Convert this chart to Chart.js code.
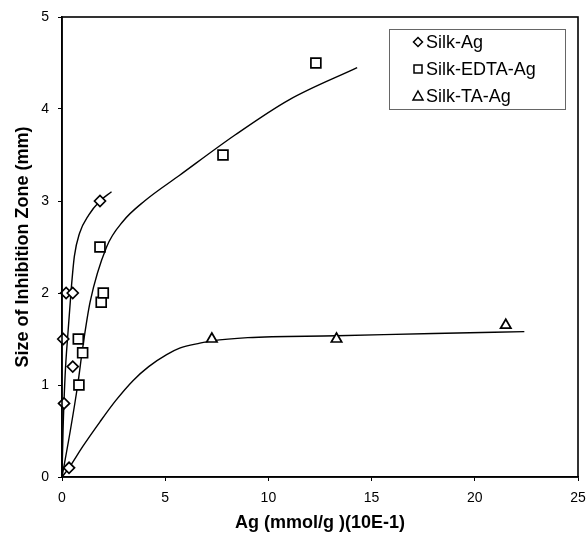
<!DOCTYPE html>
<html lang="en">
<head>
    <meta charset="UTF-8">
    <title>Size of Inhibition Zone</title>
    <script src="https://cdn.jsdelivr.net/npm/chart.js"></script>
    <style>
        html, body { margin: 0; padding: 0; background: #fff; }
        #wrap { width: 587px; height: 538px; }
    </style>
</head>
<body>
    <div id="wrap"><canvas id="zoneChart"></canvas></div>

    <script>
        // measured points
        const silkAgX = [0.1, 0.06, 0.2, 0.52, 0.52, 0.34, 1.84];
        const silkAgY = [0.8, 1.5, 2.0, 2.0, 1.2, 0.1, 3.0];
        const edtaX = [0.82, 1.0, 0.79, 1.9, 2.0, 1.84, 7.8, 12.3];
        const edtaY = [1.0, 1.35, 1.5, 1.9, 2.0, 2.5, 3.5, 4.5];
        const taX = [7.26, 13.3, 21.5];
        const taY = [1.5, 1.5, 1.65];

        // fitted trend lines
        const agLineX = [0, 0.05, 0.15, 0.3, 0.45, 0.6, 0.85, 1.3, 1.84, 2.4];
        const agLineY = [0, 0.5, 1.1, 1.6, 2.05, 2.4, 2.65, 2.85, 3.0, 3.1];
        const edtaLineX = [0, 0.4, 0.76, 1.0, 1.36, 2.16, 2.96, 4.0, 5.7, 8.4, 11, 14.3];
        const edtaLineY = [0, 0.5, 1.0, 1.4, 1.9, 2.5, 2.78, 3.0, 3.28, 3.72, 4.1, 4.45];
        const taLineX = [0, 0.34, 1, 1.84, 2.6, 3.45, 4.2, 5.07, 5.7, 6.68, 7.26, 9, 13.3, 18, 22.4];
        const taLineY = [0, 0.1, 0.33, 0.6, 0.83, 1.05, 1.2, 1.33, 1.4, 1.455, 1.48, 1.515, 1.535, 1.56, 1.58];

        const seriesNames = ['Silk-Ag', 'Silk-EDTA-Ag', 'Silk-TA-Ag'];
        const xTicks = [0, 5, 10, 15, 20, 25];
        const yTicks = [0, 1, 2, 3, 4, 5];

        const pts = (xs, ys) => xs.map((x, i) => ({ x: x, y: ys[i] }));

        Chart.defaults.font.family = '"Liberation Sans", Arial, sans-serif';
        Chart.defaults.color = '#000';

        function markerDataset(label, xs, ys, style, r) {
            return {
                label: label,
                data: pts(xs, ys),
                showLine: false,
                pointStyle: style,
                pointRadius: r,
                pointBorderColor: '#000',
                pointBackgroundColor: '#fff',
                pointBorderWidth: 1.7,
                clip: false,
                order: 0
            };
        }

        function lineDataset(xs, ys) {
            return {
                data: pts(xs, ys),
                showLine: true,
                borderColor: '#000',
                borderWidth: 1.4,
                pointRadius: 0,
                cubicInterpolationMode: 'monotone',
                order: 1
            };
        }

        // box round the plot area
        const frame = {
            id: 'frame',
            afterDraw(chart) {
                const a = chart.chartArea, ctx = chart.ctx;
                ctx.save();
                ctx.strokeStyle = '#000';
                ctx.lineWidth = 1.6;
                ctx.strokeRect(a.left, a.top, a.right - a.left, a.bottom - a.top);
                ctx.restore();
            }
        };

        // legend box inside the plot, upper right
        const boxLegend = {
            id: 'boxLegend',
            afterDraw(chart) {
                const ctx = chart.ctx;
                ctx.save();
                ctx.strokeStyle = '#666';
                ctx.lineWidth = 1;
                ctx.strokeRect(389.5, 29.5, 176, 80);
                ctx.font = '18px "Liberation Sans", Arial, sans-serif';
                ctx.fillStyle = '#000';
                ctx.textBaseline = 'middle';
                const rows = [42, 69, 96];
                const mx = 418;
                ctx.lineWidth = 1.5;
                ctx.strokeStyle = '#000';
                rows.forEach((y, i) => {
                    ctx.beginPath();
                    if (i === 0) {
                        ctx.moveTo(mx, y - 4.5); ctx.lineTo(mx + 4.5, y);
                        ctx.lineTo(mx, y + 4.5); ctx.lineTo(mx - 4.5, y);
                        ctx.closePath();
                    } else if (i === 1) {
                        ctx.rect(mx - 4, y - 4, 8, 8);
                    } else {
                        ctx.moveTo(mx, y - 5); ctx.lineTo(mx + 5, y + 4);
                        ctx.lineTo(mx - 5, y + 4); ctx.closePath();
                    }
                    ctx.stroke();
                    ctx.fillText(seriesNames[i], 426, y + 1);
                });
                ctx.restore();
            }
        };

        new Chart(document.getElementById('zoneChart'), {
            type: 'scatter',
            data: {
                datasets: [
                    lineDataset(agLineX, agLineY),
                    lineDataset(edtaLineX, edtaLineY),
                    lineDataset(taLineX, taLineY),
                    markerDataset(seriesNames[0], silkAgX, silkAgY, 'rectRot', 5.5),
                    markerDataset(seriesNames[1], edtaX, edtaY, 'rect', 7),
                    markerDataset(seriesNames[2], taX, taY, 'triangle', 6)
                ]
            },
            options: {
                responsive: true,
                maintainAspectRatio: false,
                animation: false,
                layout: { padding: { top: 17, right: 9, left: 0, bottom: 0 } },
                plugins: {
                    legend: { display: false },
                    tooltip: { enabled: false }
                },
                scales: {
                    x: {
                        type: 'linear',
                        min: 0,
                        max: 25,
                        afterBuildTicks: s => { s.ticks = xTicks.map(v => ({ value: v })); },
                        afterFit: s => { s.height = 61; s.paddingLeft = 0; s.paddingRight = 0; },
                        ticks: { font: { size: 14 }, padding: 9, maxRotation: 0 },
                        grid: { drawOnChartArea: false, tickLength: 4, color: '#000' },
                        border: { color: '#000', width: 1.6 },
                        title: {
                            display: true,
                            text: 'Ag (mmol/g )(10E-1)',
                            font: { size: 18, weight: 'bold' },
                            padding: { top: 4, bottom: 4 }
                        }
                    },
                    y: {
                        type: 'linear',
                        min: 0,
                        max: 5,
                        afterBuildTicks: s => { s.ticks = yTicks.map(v => ({ value: v })); },
                        afterFit: s => { s.width = 62; s.paddingTop = 0; s.paddingBottom = 0; },
                        ticks: { font: { size: 14 }, padding: 9 },
                        grid: { drawOnChartArea: false, tickLength: 4, color: '#000' },
                        border: { color: '#000', width: 1.6 },
                        title: {
                            display: true,
                            text: 'Size of Inhibition Zone (mm)',
                            font: { size: 18, weight: 'bold' },
                            padding: { top: 12, bottom: 4 }
                        }
                    }
                }
            },
            plugins: [frame, boxLegend]
        });
    </script>
</body>
</html>
